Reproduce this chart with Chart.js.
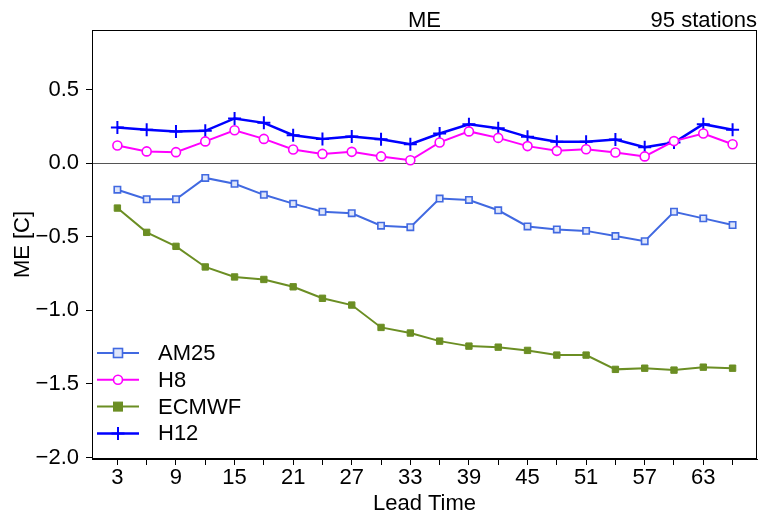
<!DOCTYPE html>
<html>
<head>
<meta charset="utf-8">
<script src="https://cdn.jsdelivr.net/npm/chart.js@4.4.0/dist/chart.umd.min.js"></script>
<style>
  html, body { margin: 0; padding: 0; background: #fff; }
  #wrap { width: 761px; height: 518px; }
</style>
</head>
<body>
<div id="wrap"><canvas id="chart"></canvas></div>
<script>
const leadTimes = [3, 6, 9, 12, 15, 18, 21, 24, 27, 30, 33, 36, 39, 42, 45, 48, 51, 54, 57, 60, 63, 66];
const xTicks = leadTimes;
const yTicks = [-2.0, -1.5, -1.0, -0.5, 0.0, 0.5];

const am25 = [-0.18, -0.245, -0.245, -0.10, -0.14, -0.215, -0.275, -0.33, -0.34, -0.425, -0.435,
  -0.24, -0.25, -0.32, -0.43, -0.45, -0.46, -0.495, -0.53, -0.33, -0.375, -0.42];
const h8 = [0.12, 0.08, 0.075, 0.148, 0.224, 0.165, 0.093, 0.063, 0.077, 0.046, 0.02,
  0.141, 0.216, 0.172, 0.116, 0.084, 0.095, 0.073, 0.046, 0.15, 0.202, 0.129];
const ecmwf = [-0.305, -0.47, -0.565, -0.705, -0.773, -0.79, -0.84, -0.918, -0.964, -1.116, -1.154,
  -1.209, -1.243, -1.25, -1.272, -1.304, -1.304, -1.401, -1.393, -1.406, -1.386, -1.393];
const h12 = [0.243, 0.227, 0.216, 0.22, 0.304, 0.274, 0.19, 0.165, 0.182, 0.163, 0.129,
  0.202, 0.265, 0.238, 0.179, 0.145, 0.145, 0.161, 0.109, 0.141, 0.265, 0.227];

const FONT = 'Liberation Sans, Arial, Helvetica, sans-serif';
const FS = 22;
Chart.defaults.font.family = FONT;
Chart.defaults.color = '#000';

function minus(s) { return String(s).replace('-', '\u2212'); }

// frame around the plot, header texts and an in-plot legend
const extras = {
  id: 'extras',
  afterDraw(chart) {
    const { ctx, chartArea: a } = chart;
    ctx.save();
    ctx.strokeStyle = '#000';
    ctx.lineWidth = 1;
    ctx.strokeRect(a.left + 0.5, a.top + 0.5, a.right - a.left - 1, a.bottom - a.top - 1);

    ctx.fillStyle = '#000';
    ctx.font = FS + 'px ' + FONT;
    ctx.textBaseline = 'alphabetic';
    ctx.textAlign = 'center';
    ctx.fillText('ME', (a.left + a.right) / 2, 27);
    ctx.textAlign = 'right';
    ctx.fillText('95 stations', a.right, 27);

    // legend
    chart.data.datasets.forEach((ds, i) => {
      const y = 353 + i * 26.8;
      ctx.strokeStyle = ds.borderColor;
      ctx.lineWidth = ds.borderWidth;
      ctx.beginPath();
      ctx.moveTo(97, y);
      ctx.lineTo(139, y);
      ctx.stroke();
      ctx.fillStyle = ds.pointBackgroundColor;
      ctx.strokeStyle = ds.borderColor;
      ctx.lineWidth = ds.pointBorderWidth;
      const r = ds.pointRadius;
      if (ds.pointStyle === 'rect') {
        ctx.fillRect(118 - r, y - r, 2 * r, 2 * r);
        ctx.strokeRect(118 - r, y - r, 2 * r, 2 * r);
      } else if (ds.pointStyle === 'circle') {
        ctx.beginPath();
        ctx.arc(118, y, r, 0, Math.PI * 2);
        ctx.fill();
        ctx.stroke();
      } else {
        ctx.beginPath();
        ctx.moveTo(118 - r, y); ctx.lineTo(118 + r, y);
        ctx.moveTo(118, y - r); ctx.lineTo(118, y + r);
        ctx.stroke();
      }
      ctx.fillStyle = '#000';
      ctx.font = FS + 'px ' + FONT;
      ctx.textAlign = 'left';
      ctx.textBaseline = 'middle';
      ctx.fillText(ds.label, 158, y + 1);
    });
    ctx.restore();
  }
};

function series(label, data, color, style, radius, fill, lw, pbw) {
  return {
    label: label,
    data: leadTimes.map((x, i) => ({ x: x, y: data[i] })),
    borderColor: color,
    backgroundColor: color,
    borderWidth: lw,
    pointStyle: style,
    pointRadius: radius,
    pointHoverRadius: radius,
    pointBorderWidth: pbw,
    pointBackgroundColor: fill,
    pointBorderColor: color,
    tension: 0
  };
}

new Chart(document.getElementById('chart'), {
  type: 'line',
  data: {
    datasets: [
      series('AM25', am25, '#4169E1', 'rect', 4.5, '#dfe6fa', 2, 1.6),
      series('H8', h8, '#FF00FF', 'circle', 4.5, '#ffffff', 2, 1.6),
      series('ECMWF', ecmwf, '#6B8E23', 'rect', 4.5, '#6B8E23', 2, 1),
      series('H12', h12, '#0000FF', 'cross', 6.5, '#0000FF', 2.5, 2)
    ]
  },
  options: {
    responsive: true,
    maintainAspectRatio: false,
    animation: false,
    layout: { autoPadding: false, padding: { top: 30, right: 4, left: 0, bottom: 0 } },
    plugins: {
      legend: { display: false },
      tooltip: { enabled: false }
    },
    scales: {
      x: {
        type: 'linear',
        min: 0.4,
        max: 68.5,
        afterBuildTicks: s => { s.ticks = xTicks.map(v => ({ value: v })); },
        afterFit: s => { s.height = 59; s.paddingLeft = 0; s.paddingRight = 0; },
        grid: { drawOnChartArea: false, drawTicks: true, tickLength: 6, tickColor: '#000' },
        border: { display: true, color: '#000', width: 1 },
        ticks: {
          autoSkip: false,
          maxRotation: 0,
          padding: 0,
          font: { size: FS },
          callback: v => ((v - 3) % 6 === 0 ? String(v) : '')
        },
        title: { display: true, text: 'Lead Time', font: { size: FS }, padding: { top: 0, bottom: 1 } }
      },
      y: {
        min: -2.01,
        max: 0.905,
        afterBuildTicks: s => { s.ticks = yTicks.map(v => ({ value: v })); },
        afterFit: s => { s.width = 92; s.paddingTop = 0; s.paddingBottom = 0; },
        grid: {
          drawOnChartArea: true,
          drawTicks: true,
          tickLength: 6,
          tickColor: '#000',
          color: c => (c.tick && c.tick.value === 0 ? '#555' : 'rgba(0,0,0,0)'),
          lineWidth: 1
        },
        border: { display: true, color: '#000', width: 1 },
        ticks: {
          padding: 7,
          font: { size: FS },
          callback: v => minus(Number(v).toFixed(1))
        },
        title: { display: true, text: 'ME [C]', font: { size: FS }, padding: { top: 10, bottom: 0 } }
      }
    }
  },
  plugins: [extras]
});
</script>
</body>
</html>
